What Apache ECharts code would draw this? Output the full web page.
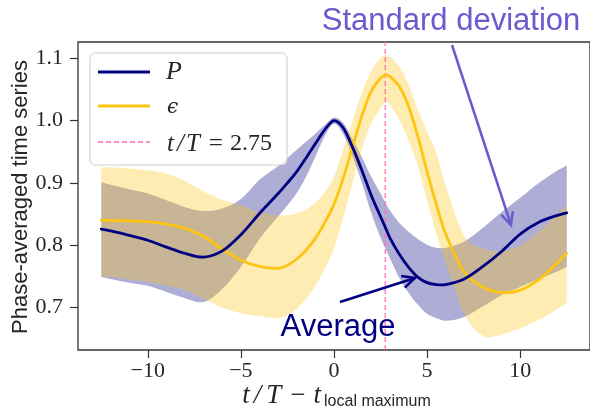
<!DOCTYPE html>
<html>
<head>
<meta charset="utf-8">
<script src="https://cdn.jsdelivr.net/npm/echarts@6/dist/echarts.min.js"></script>
<style>
  html, body { margin: 0; padding: 0; background: #fff; }
  #chart { width: 590px; height: 412px; }
</style>
</head>
<body>
<div id="chart"></div>
<script>
// Phase-averaged time series around the local maximum of P
const tGrid = [-12.5, -12, -11, -10, -9, -8, -7, -6, -5, -4, -3, -2.5, -2, -1.5, -1, -0.5, 0, 0.5, 1, 1.5,
               2, 2.5, 2.75, 3, 3.5, 4, 4.5, 5, 5.5, 6, 7, 8, 9, 10, 11, 12, 12.5];

// P: average and one-standard-deviation envelope
const pMean  = [0.826, 0.823, 0.816, 0.808, 0.797, 0.787, 0.781, 0.791, 0.817, 0.851, 0.883, 0.900, 0.918, 0.940,
                0.963, 0.985, 1.000, 0.988, 0.957, 0.920, 0.880, 0.846, 0.829, 0.812, 0.786, 0.765, 0.749, 0.740,
                0.737, 0.737, 0.746, 0.766, 0.790, 0.818, 0.837, 0.848, 0.852];
const pUpper = [0.901, 0.897, 0.890, 0.883, 0.872, 0.861, 0.855, 0.859, 0.874, 0.905, 0.927, 0.940, 0.953, 0.966,
                0.979, 0.993, 1.005, 0.996, 0.970, 0.941, 0.910, 0.883, 0.869, 0.856, 0.836, 0.822, 0.810, 0.801,
                0.796, 0.796, 0.806, 0.828, 0.853, 0.876, 0.900, 0.920, 0.928];
const pLower = [0.749, 0.746, 0.740, 0.735, 0.725, 0.715, 0.709, 0.730, 0.765, 0.810, 0.846, 0.864, 0.884, 0.910,
                0.942, 0.975, 0.995, 0.978, 0.942, 0.900, 0.852, 0.812, 0.795, 0.779, 0.748, 0.724, 0.705, 0.690,
                0.683, 0.679, 0.685, 0.702, 0.720, 0.733, 0.746, 0.758, 0.765];

// epsilon: average and one-standard-deviation envelope
const eMean  = [0.840, 0.840, 0.839, 0.838, 0.834, 0.827, 0.814, 0.794, 0.776, 0.766, 0.763, 0.768, 0.778, 0.792,
                0.811, 0.836, 0.866, 0.908, 0.958, 1.008, 1.047, 1.068, 1.073, 1.071, 1.055, 1.023, 0.975, 0.918,
                0.865, 0.818, 0.757, 0.733, 0.724, 0.728, 0.745, 0.772, 0.787];
const eUpper = [0.925, 0.925, 0.923, 0.920, 0.915, 0.903, 0.886, 0.873, 0.864, 0.853, 0.848, 0.848, 0.851, 0.857,
                0.868, 0.885, 0.910, 0.953, 1.000, 1.045, 1.080, 1.100, 1.105, 1.102, 1.087, 1.058, 1.018, 0.982,
                0.948, 0.895, 0.815, 0.795, 0.790, 0.800, 0.822, 0.850, 0.865];
const eLower = [0.750, 0.749, 0.745, 0.741, 0.735, 0.728, 0.714, 0.700, 0.691, 0.686, 0.683, 0.688, 0.698, 0.714,
                0.735, 0.762, 0.795, 0.845, 0.900, 0.955, 0.995, 1.020, 1.029, 1.025, 1.002, 0.968, 0.928, 0.872,
                0.818, 0.772, 0.690, 0.655, 0.657, 0.667, 0.680, 0.698, 0.707];

const markT = 2.75;

const xTicks = [-10, -5, 0, 5, 10];
const xTickLabels = ['\u221210', '\u22125', '0', '5', '10'];
const yTicks = [0.7, 0.8, 0.9, 1.0, 1.1];
const yTickLabels = ['0.7', '0.8', '0.9', '1.0', '1.1'];

const X_MIN = -13.75, X_MAX = 13.75, Y_MIN = 0.632, Y_MAX = 1.126;

const NAVY = '#000080';
const GOLD = '#FDC50F';
const PINK = '#FF69B4';
const SLATE = '#6A5ACD';
const INK = '#262626';
const BAND_ALPHA = 0.32;

const lookup = (vals, labels) => v => {
  const i = vals.findIndex(u => Math.abs(u - v) < 1e-9);
  return i < 0 ? '' : labels[i];
};

// Cubic Hermite segments (finite-difference tangents) in data space,
// each as [p0, c1, c2, p3]; mapped to pixels afterwards through the axes.
function hermiteSegments(xs, ys) {
  const n = xs.length, m = [];
  for (let i = 0; i < n; i++) {
    const a = Math.max(0, i - 1), b = Math.min(n - 1, i + 1);
    m.push((ys[b] - ys[a]) / (xs[b] - xs[a]));
  }
  const segs = [];
  for (let i = 0; i < n - 1; i++) {
    const h = xs[i + 1] - xs[i];
    segs.push([[xs[i], ys[i]], [xs[i] + h / 3, ys[i] + m[i] * h / 3],
               [xs[i + 1] - h / 3, ys[i + 1] - m[i + 1] * h / 3], [xs[i + 1], ys[i + 1]]]);
  }
  return segs;
}

function curvePath(api, xs, ys, reverse, move) {
  let segs = hermiteSegments(xs, ys);
  if (reverse) segs = segs.reverse().map(s => [s[3], s[2], s[1], s[0]]);
  const P = p => api.coord(p);
  let d = '';
  segs.forEach((s, k) => {
    if (k === 0) { const p = P(s[0]); d += (move ? 'M' : 'L') + p[0] + ' ' + p[1]; }
    const c1 = P(s[1]), c2 = P(s[2]), p3 = P(s[3]);
    d += ' C' + c1[0] + ' ' + c1[1] + ' ' + c2[0] + ' ' + c2[1] + ' ' + p3[0] + ' ' + p3[1];
  });
  return d;
}

function bandSeries(upper, lower, color) {
  return {
    type: 'custom', silent: true, data: [[0, 0]],
    renderItem: (params, api) => ({
      type: 'path',
      shape: { pathData: curvePath(api, tGrid, upper, false, true) + ' ' +
                         curvePath(api, tGrid, lower, true, false) + ' Z' },
      style: { fill: color, opacity: BAND_ALPHA, stroke: null }
    })
  };
}

function lineSeries(name, ys, color) {
  return {
    type: 'custom', name: name, silent: true, data: [[0, 0]],
    renderItem: (params, api) => ({
      type: 'path',
      shape: { pathData: curvePath(api, tGrid, ys, false, true) },
      style: { fill: null, stroke: color, lineWidth: 2.8, lineJoin: 'round', lineCap: 'round' }
    })
  };
}

const markSeries = {
  type: 'custom', silent: true, data: [[markT, 0]],
  renderItem: (params, api) => {
    const a = api.coord([api.value(0), Y_MIN]), b = api.coord([api.value(0), Y_MAX]);
    return { type: 'line', shape: { x1: a[0], y1: a[1], x2: b[0], y2: b[1] },
             style: { stroke: PINK, lineWidth: 1.2, lineDash: [5, 3] } };
  }
};

// open "->" arrow head at (x1, y1)
function arrowHead(x0, y0, x1, y1, len, ang) {
  const a = Math.atan2(y1 - y0, x1 - x0);
  return [
    [x1 - len * Math.cos(a - ang), y1 - len * Math.sin(a - ang)],
    [x1, y1],
    [x1 - len * Math.cos(a + ang), y1 - len * Math.sin(a + ang)]
  ];
}

const sdFrom = [452, 45], sdTo = [511, 225];
const avFrom = [340, 302], avTo = [415, 278];

const serifI = size => ({ fontFamily: 'Liberation Serif', fontStyle: 'italic', fontSize: size, fill: INK });
const serifU = size => ({ fontFamily: 'Liberation Serif', fontSize: size, fill: INK });

const chart = echarts.init(document.getElementById('chart'), null, { renderer: 'canvas' });

chart.setOption({
  animation: false,
  grid: {
    left: 78, right: -5, top: 42, bottom: 62,
    show: true, borderColor: '#333', borderWidth: 1.3, backgroundColor: 'transparent'
  },
  xAxis: {
    type: 'value', min: X_MIN, max: X_MAX,
    axisLine: { show: false, onZero: false },
    splitLine: { show: false },
    axisTick: { show: true, customValues: xTicks, length: 8, lineStyle: { color: '#333', width: 1.2 } },
    axisLabel: {
      customValues: xTicks, formatter: lookup(xTicks, xTickLabels), margin: 10,
      fontFamily: 'Liberation Serif', fontSize: 22, color: INK
    }
  },
  yAxis: {
    type: 'value', min: Y_MIN, max: Y_MAX,
    axisLine: { show: false, onZero: false },
    splitLine: { show: false },
    axisTick: { show: true, customValues: yTicks, length: 8, lineStyle: { color: '#333', width: 1.2 } },
    axisLabel: {
      customValues: yTicks, formatter: lookup(yTicks, yTickLabels), margin: 15,
      fontFamily: 'Liberation Serif', fontSize: 22, color: INK
    }
  },
  series: [
    bandSeries(pUpper, pLower, NAVY),
    bandSeries(eUpper, eLower, GOLD),
    markSeries,
    lineSeries('\u03F5', eMean, GOLD),
    lineSeries('P', pMean, NAVY)
  ],
  graphic: { elements: [
    // legend
    { type: 'rect', z: 100, shape: { x: 90, y: 53, width: 197, height: 112, r: 5 },
      style: { fill: 'rgba(255,255,255,0.8)', stroke: 'rgba(200,200,200,0.9)', lineWidth: 1 } },
    { type: 'line', z: 101, shape: { x1: 98, y1: 72, x2: 150, y2: 72 }, style: { stroke: NAVY, lineWidth: 2.8 } },
    { type: 'line', z: 101, shape: { x1: 98, y1: 106, x2: 150, y2: 106 }, style: { stroke: GOLD, lineWidth: 2.8 } },
    { type: 'line', z: 101, shape: { x1: 98, y1: 142, x2: 150, y2: 142 },
      style: { stroke: PINK, lineWidth: 1.3, lineDash: [5, 3] } },
    { type: 'text', z: 101, x: 166, y: 72,
      style: Object.assign(serifI(26), { text: 'P', verticalAlign: 'middle' }) },
    { type: 'text', z: 101, x: 167, y: 108,
      style: { text: '\u03F5', fontFamily: 'DejaVu Serif', fontStyle: 'italic', fontSize: 20, fill: INK,
               verticalAlign: 'middle' } },
    { type: 'text', z: 101, x: 166, y: 144,
      style: { text: '{i|t}{s|/}{j|T}{u|=}{n|2.75}', verticalAlign: 'middle', fill: INK,
               rich: { i: Object.assign(serifI(25), { padding: [0, 1, 0, 1] }),
                       s: Object.assign(serifI(25), { padding: [0, 2, 0, 2] }),
                       j: Object.assign(serifI(25), { padding: [0, 2, 0, 0] }),
                       u: Object.assign(serifU(25), { padding: [0, 7, 0, 7] }),
                       n: serifU(24) } } },
    // axis titles
    { type: 'text', z: 50, x: 21, y: 197, rotation: Math.PI / 2,
      style: { text: 'Phase-averaged time series', fontFamily: 'Liberation Sans', fontSize: 22, fill: INK,
               align: 'center', verticalAlign: 'middle' } },
    { type: 'text', z: 50, x: 336, y: 396,
      style: { text: '{i|t}{s|/}{j|T}{o|\u2212}{k|t}{sub|local maximum}', align: 'center', verticalAlign: 'middle',
               fill: INK,
               rich: { i: Object.assign(serifI(27), { padding: [0, 2, 0, 1] }),
                       s: Object.assign(serifI(27), { padding: [0, 3, 0, 2] }),
                       j: Object.assign(serifI(27), { padding: [0, 2, 0, 2] }),
                       o: Object.assign(serifU(27), { padding: [0, 8, 0, 7] }),
                       k: Object.assign(serifI(27), { padding: [0, 3, 0, 0] }),
                       sub: { fontFamily: 'Liberation Sans', fontSize: 16, fill: INK, padding: [12, 0, 0, 0] } } } },
    // annotations
    { type: 'text', z: 60, x: 451, y: 21,
      style: { text: 'Standard deviation', fontFamily: 'Liberation Sans', fontSize: 31, fill: SLATE,
               align: 'center', verticalAlign: 'middle' } },
    { type: 'line', z: 60, shape: { x1: sdFrom[0], y1: sdFrom[1], x2: sdTo[0], y2: sdTo[1] },
      style: { stroke: SLATE, lineWidth: 2.5 } },
    { type: 'polyline', z: 60, shape: { points: arrowHead(sdFrom[0], sdFrom[1], sdTo[0], sdTo[1], 14, 0.45) },
      style: { stroke: SLATE, lineWidth: 2.5, fill: null } },
    { type: 'text', z: 60, x: 338, y: 327,
      style: { text: 'Average', fontFamily: 'Liberation Sans', fontSize: 31, fill: NAVY,
               align: 'center', verticalAlign: 'middle' } },
    { type: 'line', z: 60, shape: { x1: avFrom[0], y1: avFrom[1], x2: avTo[0], y2: avTo[1] },
      style: { stroke: NAVY, lineWidth: 2.5 } },
    { type: 'polyline', z: 60, shape: { points: arrowHead(avFrom[0], avFrom[1], avTo[0], avTo[1], 14, 0.45) },
      style: { stroke: NAVY, lineWidth: 2.5, fill: null } }
  ] }
});
</script>
</body>
</html>
